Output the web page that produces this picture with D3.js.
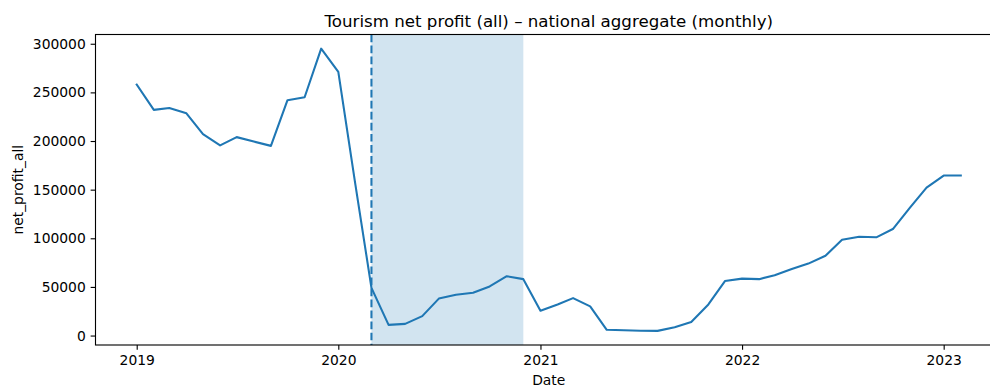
<!DOCTYPE html>
<html>
<head>
<meta charset="utf-8">
<script src="https://cdn.jsdelivr.net/npm/d3@7"></script>
<style>
  html, body { margin: 0; padding: 0; background: #fff; overflow: hidden; }
  svg { display: block; font-family: "DejaVu Sans", sans-serif; }
</style>
</head>
<body>
<script>
// Monthly national aggregate of tourism net profit
const months = [
  "2019-01","2019-02","2019-03","2019-04","2019-05","2019-06","2019-07","2019-08","2019-09","2019-10","2019-11","2019-12",
  "2020-01","2020-02","2020-03","2020-04","2020-05","2020-06","2020-07","2020-08","2020-09","2020-10","2020-11","2020-12",
  "2021-01","2021-02","2021-03","2021-04","2021-05","2021-06","2021-07","2021-08","2021-09","2021-10","2021-11","2021-12",
  "2022-01","2022-02","2022-03","2022-04","2022-05","2022-06","2022-07","2022-08","2022-09","2022-10","2022-11","2022-12",
  "2023-01","2023-02"
];
const netProfitAll = [
  258000, 232000, 234000, 228500, 207000, 195500, 204000, 199500, 195000, 242000, 245000, 295000,
  271000, 155000, 49000, 11000, 12000, 20000, 38000, 42000, 44000, 50500, 61000, 58000,
  25500, 32000, 38500, 30000, 5900, 5500, 5000, 4800, 8600, 14000, 32000, 56000,
  58500, 58000, 62000, 68500, 74000, 82000, 98500, 101500, 101000, 109500, 131500, 152000,
  164500, 164500
];
// Shaded period and the marker at its start
const shadeStart = "2020-03";
const shadeEnd = "2020-12";
const markerDate = "2020-03";
const yTicks = [0, 50000, 100000, 150000, 200000, 250000, 300000];
const xTickYears = ["2019", "2020", "2021", "2022", "2023"];

const titleText = "Tourism net profit (all) \u2013 national aggregate (monthly)";
const xLabel = "Date";
const yLabel = "net_profit_all";

const W = 990, H = 387;
const ax = { left: 95.5, top: 34.5, width: 906.5, height: 310.5 };
const blue = "#1f77b4";
const pt = 100 / 72;

const parse = d3.utcParse("%Y-%m");
const parseY = d3.utcParse("%Y");
const dates = months.map(parse);
const data = dates.map((d, i) => ({ date: d, value: netProfitAll[i] }));

// 5% margins on both axes
const [d0, d1] = d3.extent(dates);
const span = d1 - d0;
const x = d3.scaleUtc()
  .domain([new Date(+d0 - span * 0.05), new Date(+d1 + span * 0.05)])
  .range([ax.left, ax.left + ax.width]);
const [v0, v1] = d3.extent(netProfitAll);
const vspan = v1 - v0;
const y = d3.scaleLinear()
  .domain([v0 - vspan * 0.05, v1 + vspan * 0.05])
  .range([ax.top + ax.height, ax.top]);

const svg = d3.select("body").append("svg")
  .attr("width", W).attr("height", H);

const clipId = "plot-clip";
svg.append("clipPath").attr("id", clipId).append("rect")
  .attr("x", ax.left).attr("y", ax.top)
  .attr("width", ax.width).attr("height", ax.height);

const plot = svg.append("g").attr("clip-path", `url(#${clipId})`);

// shaded span
plot.append("rect")
  .attr("x", x(parse(shadeStart)))
  .attr("y", ax.top)
  .attr("width", x(parse(shadeEnd)) - x(parse(shadeStart)))
  .attr("height", ax.height)
  .attr("fill", blue).attr("fill-opacity", 0.2);

// data line
plot.append("path")
  .datum(data)
  .attr("fill", "none")
  .attr("stroke", blue)
  .attr("stroke-width", 1.5 * pt)
  .attr("stroke-linejoin", "round")
  .attr("stroke-linecap", "square")
  .attr("d", d3.line().x(d => x(d.date)).y(d => y(d.value)));

// dashed marker
plot.append("line")
  .attr("x1", x(parse(markerDate))).attr("x2", x(parse(markerDate)))
  .attr("y1", ax.top).attr("y2", ax.top + ax.height)
  .attr("stroke", blue)
  .attr("stroke-width", 1.5 * pt)
  .attr("stroke-dasharray", `${5.55 * pt},${2.4 * pt}`);

// axes
const tickLen = 3.5 * pt;
const tickPad = 3.5 * pt;
const fontSize = 10 * pt;

const xAxis = d3.axisBottom(x)
  .tickValues(xTickYears.map(parseY))
  .tickFormat(d3.utcFormat("%Y"))
  .tickSize(tickLen).tickPadding(tickPad);
const gx = svg.append("g")
  .attr("transform", `translate(0,${ax.top + ax.height})`)
  .call(xAxis);

const yAxis = d3.axisLeft(y)
  .tickValues(yTicks)
  .tickFormat(d3.format("d"))
  .tickSize(tickLen).tickPadding(tickPad);
const gy = svg.append("g")
  .attr("transform", `translate(${ax.left},0)`)
  .call(yAxis);

[gx, gy].forEach(g => {
  g.select(".domain").remove();
  g.selectAll(".tick line").attr("stroke", "#000").attr("stroke-width", 0.8 * pt);
  g.selectAll(".tick text")
    .attr("fill", "#000")
    .style("font-family", "'DejaVu Sans', sans-serif")
    .style("font-size", fontSize + "px");
});

// spines
svg.append("rect")
  .attr("x", ax.left).attr("y", ax.top)
  .attr("width", ax.width).attr("height", ax.height)
  .attr("fill", "none").attr("stroke", "#000").attr("stroke-width", 0.8 * pt);

// title and labels
const cx = ax.left + ax.width / 2;
svg.append("text")
  .attr("x", cx).attr("y", 26.5)
  .attr("text-anchor", "middle")
  .style("font-size", 12 * pt + "px")
  .attr("fill", "#000")
  .text(titleText);

svg.append("text")
  .attr("x", cx).attr("y", 384.5)
  .attr("text-anchor", "middle")
  .style("font-size", fontSize + "px")
  .attr("fill", "#000")
  .text(xLabel);

svg.append("text")
  .attr("transform", `translate(23,${ax.top + ax.height / 2}) rotate(-90)`)
  .attr("text-anchor", "middle")
  .style("font-size", fontSize + "px")
  .attr("fill", "#000")
  .text(yLabel);
</script>
</body>
</html>
